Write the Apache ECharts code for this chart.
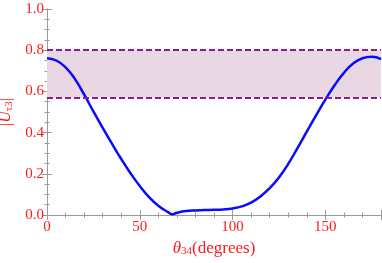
<!DOCTYPE html>
<html>
<head>
<meta charset="utf-8">
<script src="https://cdn.jsdelivr.net/npm/echarts@6/dist/echarts.min.js"></script>
<style>html,body{margin:0;padding:0;background:#fff;}#c{width:382px;height:263px;}</style>
</head>
<body>
<div id="c"></div>
<script>
const thetaDeg = [0,5,10,15,20,25,30,35,40,45,50,55,60,65,67.5,70,75,80,85,90,95,100,105,110,115,120,125,130,135,140,145,150,155,160,165,170,175,180];
const absU = [0.761,0.75,0.717,0.661,0.585,0.503,0.423,0.346,0.272,0.203,0.141,0.087,0.045,0.015,0.004,0.011,0.019,0.022,0.024,0.025,0.027,0.032,0.042,0.06,0.09,0.13,0.182,0.248,0.325,0.405,0.484,0.56,0.63,0.69,0.735,0.761,0.768,0.757];
const bandLow = 0.57;
const bandHigh = 0.80;
const xTicks = [0,50,100,150];
const yTicks = ['0.0','0.2','0.4','0.6','0.8','1.0'];

const red = '#ff1a1a';
const frame = '#9a9a9a';
const font = '"Liberation Serif","DejaVu Serif",serif';
const chart = echarts.init(document.getElementById('c'));
const tickCommon = {show:true, inside:true, length:5, lineStyle:{color:frame, width:1}};
const minorCommon = {show:true, length:2.5, lineStyle:{color:frame, width:1}};
chart.setOption({
  animation:false,
  grid:{left:47, right:1, top:9, bottom:48, containLabel:false, outerBoundsMode:'none'},
  xAxis:[{
    type:'value', min:0, max:180, interval:50, position:'bottom',
    axisLine:{show:true, onZero:false, lineStyle:{color:frame,width:1}},
    axisTick:tickCommon, minorTick:Object.assign({splitNumber:5}, minorCommon),
    splitLine:{show:false},
    axisLabel:{color:red, fontFamily:font, fontSize:15, margin:5, showMaxLabel:false,
      formatter:v => xTicks.indexOf(v) >= 0 ? String(v) : ''},
    name:'{t|θ}{s|34}{n|(degrees)}', nameLocation:'middle', nameGap:24,
    nameTextStyle:{rich:{
      t:{fontFamily:font, fontStyle:'italic', fontSize:17, color:red},
      s:{fontFamily:font, fontSize:11, color:red, padding:[6,0,0,0]},
      n:{fontFamily:font, fontSize:17, color:red}
    }}
  },{
    type:'value', min:0, max:180, interval:50, position:'top',
    axisLine:{show:true, lineStyle:{color:frame,width:1}},
    axisTick:tickCommon, minorTick:Object.assign({splitNumber:5}, minorCommon),
    splitLine:{show:false}, axisLabel:{show:false}
  }],
  yAxis:[{
    type:'value', min:0, max:1, interval:0.2, position:'left',
    axisLine:{show:true, onZero:false, lineStyle:{color:frame,width:1}},
    axisTick:tickCommon, minorTick:Object.assign({splitNumber:4}, minorCommon),
    splitLine:{show:false},
    axisLabel:{color:red, fontFamily:font, fontSize:15, margin:3,
      formatter:v => yTicks[Math.round(v/0.2)]},
    name:'|{i|U}{s|τ3}|', nameLocation:'middle', nameGap:27, nameRotate:90,
    nameTextStyle:{fontFamily:font, fontSize:16, color:red, rich:{
      i:{fontFamily:font, fontStyle:'italic', fontSize:16, color:red},
      s:{fontFamily:font, fontSize:11, color:red, padding:[6,0,0,0]}
    }}
  },{
    type:'value', min:0, max:1, interval:0.2, position:'right',
    axisLine:{show:true, lineStyle:{color:frame,width:1}},
    axisTick:tickCommon, minorTick:Object.assign({splitNumber:4}, minorCommon),
    splitLine:{show:false}, axisLabel:{show:false}
  }],
  series:[{
    type:'line', xAxisIndex:0, yAxisIndex:0,
    data: thetaDeg.map((t,i)=>[t, absU[i]]),
    smooth:0.5, showSymbol:false,
    lineStyle:{color:'#0a0aff', width:2.5},
    markArea:{silent:true, itemStyle:{color:'#ead7e4'},
      data:[[{yAxis:bandLow},{yAxis:bandHigh}]]},
    markLine:{silent:true, symbol:'none', label:{show:false},
      lineStyle:{color:'#8a1e8e', width:2, type:[6,3]},
      data:[{yAxis:bandLow},{yAxis:bandHigh}]},
    z:3
  }]
});
</script>
</body>
</html>
